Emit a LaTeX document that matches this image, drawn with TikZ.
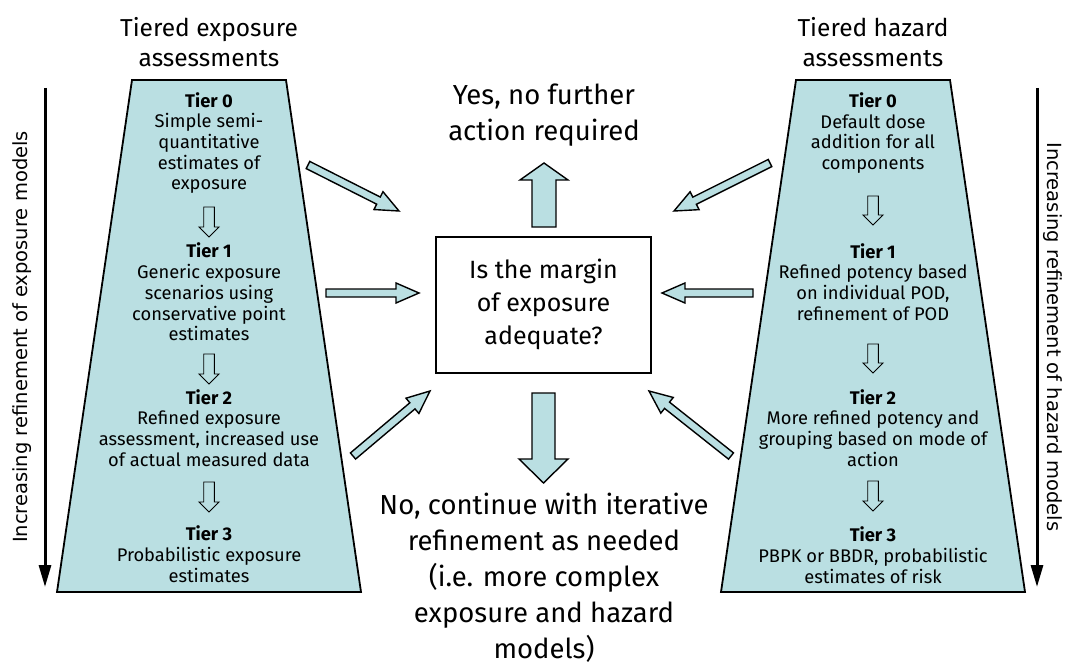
\documentclass[tikz,border=0pt]{standalone}
\usepackage{fontspec}
\setmainfont{Fira Sans}
\newfontfamily\vfont{DejaVu Sans}
\usetikzlibrary{calc,arrows.meta}
\definecolor{teal1}{RGB}{186,223,226}

\newcommand\blockarr[6]{%
  \coordinate (#1#2b) at ($(#2)!#5!(#1)$);
  \draw[#6] ($(#1)!#3!90:(#2)$) -- ($(#1#2b)!#3!90:(#2)$) -- ($(#1#2b)!#4!90:(#2)$) -- (#2)
    -- ($(#1#2b)!#4!-90:(#2)$) -- ($(#1#2b)!#3!-90:(#2)$) -- ($(#1)!#3!-90:(#2)$) -- cycle;
}

\tikzset{
  trap/.style={draw, fill=teal1, line width=1.8pt, line join=miter},
  blk/.style={draw, fill=teal1, line width=1.4pt, line join=miter},
  thin arrow/.style={draw, fill=teal1, line width=0.9pt, line join=miter},
  tiertext/.style={align=center, inner sep=0pt, font=\fontsize{18.3}{20.7}\selectfont},
  titletext/.style={align=center, inner sep=0pt, font=\fontsize{24.5}{30}\selectfont},
  bigtext/.style={align=center, inner sep=0pt, font=\fontsize{27.5}{36.5}\selectfont},
  boxtext/.style={align=center, inner sep=0pt, font=\fontsize{25}{33}\selectfont},
  sidetext/.style={inner sep=0pt, font=\vfont\fontsize{19.5}{24}\selectfont},
  sidearrow/.style={line width=3pt, -{Triangle[length=22pt,width=12pt]}},
}

\begin{document}
\begin{tikzpicture}[x=1pt,y=-1pt]
\useasboundingbox (0,0) rectangle (1070,666);

% trapezoids
\draw[trap] (132,80) -- (286,80) -- (361,592) -- (57,592) -- cycle;
\draw[trap] (796,80) -- (950,80) -- (1025,592) -- (721,592) -- cycle;

% titles
\node[titletext] (tl) at (209,42) {Tiered exposure\\assessments};
\node[titletext] (tr) at (873,42) {Tiered hazard\\assessments};

% side arrows and texts
\coordinate (la1) at (45,88);
\coordinate (la2) at (45,587);
\coordinate (ra1) at (1037,88);
\coordinate (ra2) at (1037,587);
\draw[sidearrow] (la1) -- (la2);
\draw[sidearrow] (ra1) -- (ra2);
\node[sidetext, rotate=90] (lt) at (22,337) {Increasing refinement of exposure models};
\node[sidetext, rotate=-90] (rt) at (1053,337) {Increasing refinement of hazard models};

% left tiers
\node[tiertext] (e0) at (209,143) {\textbf{Tier 0}\\Simple semi-\\quantitative\\estimates of\\exposure};
\node[tiertext] (e1) at (209,292) {\textbf{Tier 1}\\Generic exposure\\scenarios using\\conservative point\\estimates};
\node[tiertext] (e2) at (209,428) {\textbf{Tier 2}\\Refined exposure\\assessment, increased use\\of actual measured data};
\node[tiertext] (e3) at (209,554) {\textbf{Tier 3}\\Probabilistic exposure\\estimates};

\coordinate (ea0) at (209,207); \coordinate (eb0) at (209,237);
\coordinate (ea1) at (209,354); \coordinate (eb1) at (209,384);
\coordinate (ea2) at (209,482); \coordinate (eb2) at (209,512);
\blockarr{ea0}{eb0}{5.3pt}{10pt}{10pt}{thin arrow}
\blockarr{ea1}{eb1}{5.3pt}{10pt}{10pt}{thin arrow}
\blockarr{ea2}{eb2}{5.3pt}{10pt}{10pt}{thin arrow}

% right tiers
\node[tiertext] (h0) at (873,133) {\textbf{Tier 0}\\Default dose\\addition for all\\components};
\node[tiertext] (h1) at (873,282) {\textbf{Tier 1}\\Refined potency based\\on individual POD,\\refinement of POD};
\node[tiertext] (h2) at (873,428) {\textbf{Tier 2}\\More refined potency and\\grouping based on mode of\\action};
\node[tiertext] (h3) at (873,555) {\textbf{Tier 3}\\PBPK or BBDR, probabilistic\\estimates of risk};

\coordinate (ha0) at (873,196); \coordinate (hb0) at (873,225);
\coordinate (ha1) at (873,344); \coordinate (hb1) at (873,373);
\coordinate (ha2) at (873,481); \coordinate (hb2) at (873,511);
\blockarr{ha0}{hb0}{5.3pt}{10pt}{10pt}{thin arrow}
\blockarr{ha1}{hb1}{5.3pt}{10pt}{10pt}{thin arrow}
\blockarr{ha2}{hb2}{5.3pt}{10pt}{10pt}{thin arrow}

% centre box
\node[draw, line width=1.5pt, minimum width=215pt, minimum height=136pt, inner sep=0pt] (box) at (543.5,305) {};
\node[boxtext] (q) at (543.5,304) {Is the margin\\of exposure\\adequate?};

% yes / no
\node[bigtext] (yes) at (544,115) {Yes, no further\\action required};
\node[bigtext, font=\fontsize{27.5}{36}\selectfont] (no) at (544,578) {No, continue with iterative\\refinement as needed\\(i.e. more complex\\exposure and hazard\\models)};

\coordinate (ya) at (544,227); \coordinate (yb) at (544,163);
\blockarr{ya}{yb}{12pt}{24pt}{17pt}{blk}
\coordinate (na) at (543.5,393); \coordinate (nb) at (543.5,483);
\blockarr{na}{nb}{11.5pt}{24.5pt}{24pt}{blk}

% small arrows into box
\coordinate (ula) at (308,165); \coordinate (ulb) at (399,211);
\coordinate (mla) at (326,293); \coordinate (mlb) at (419,293);
\coordinate (lla) at (353,456); \coordinate (llb) at (430,391);
\coordinate (ura) at (770,163); \coordinate (urb) at (674,211);
\coordinate (mra) at (753,293); \coordinate (mrb) at (662,293);
\coordinate (lra) at (731,456); \coordinate (lrb) at (649,391);
\blockarr{ula}{ulb}{4pt}{10pt}{23pt}{blk}
\blockarr{mla}{mlb}{4pt}{10pt}{23pt}{blk}
\blockarr{lla}{llb}{4pt}{10pt}{23pt}{blk}
\blockarr{ura}{urb}{4pt}{10pt}{23pt}{blk}
\blockarr{mra}{mrb}{4pt}{10pt}{23pt}{blk}
\blockarr{lra}{lrb}{4pt}{10pt}{23pt}{blk}
\end{tikzpicture}
\end{document}
